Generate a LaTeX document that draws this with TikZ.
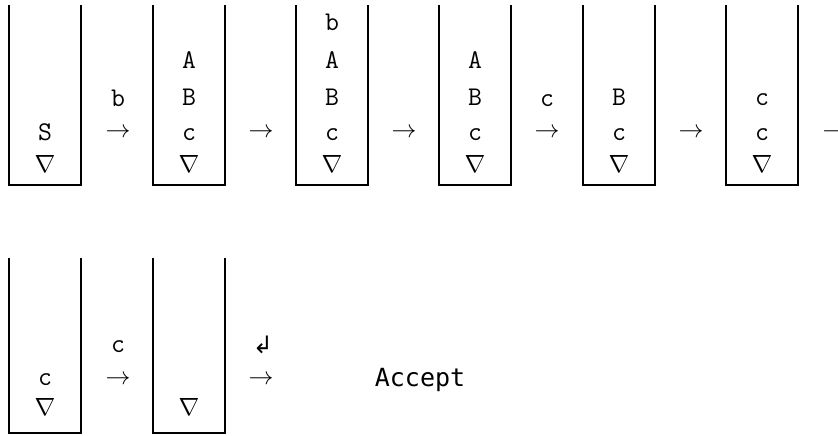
\documentclass[tikz,border=0pt]{standalone}
\usepackage{amsmath}
\usepackage{fontspec}
\newfontfamily\accfont{DejaVu Sans Mono}
\newfontfamily\symfont{DejaVu Sans}
\tikzset{
  stackline/.style={line width=2pt, line cap=butt, line join=miter},
  sym/.style={inner sep=0pt, anchor=base, font=\ttfamily\fontsize{27}{27}\selectfont},
  nab/.style={inner sep=0pt, anchor=base, font=\fontsize{23}{23}\selectfont},
  arr/.style={inner sep=0pt, anchor=center, font=\fontsize{24}{24}\selectfont},
}
\newcommand{\nb}{$\nabla$}
\begin{document}
\begin{tikzpicture}[x=1pt,y=1pt]
\useasboundingbox (0,0) rectangle (838,436);
% row 1 stacks
\foreach \xl [count=\i] in {9,153,296,439,583,726}{
  \draw[stackline] (\xl,431) |- (\xl+72,251) -- (\xl+72,431);
}
% row 2 stacks
\foreach \xl [count=\i] in {9,153}{
  \draw[stackline] (\xl,178) |- (\xl+72,3) -- (\xl+72,178);
}
% stack 1
\node[sym] (s1d) at (45,295) {S};
\node[nab] (s1n) at (45,263) {\nb};
% stack 2
\node[sym] (s2b) at (189,367) {A};
\node[sym] (s2c) at (189,330) {B};
\node[sym] (s2d) at (189,295) {c};
\node[nab] (s2n) at (189,263) {\nb};
% stack 3
\node[sym] (s3a) at (332,405) {b};
\node[sym] (s3b) at (332,367) {A};
\node[sym] (s3c) at (332,330) {B};
\node[sym] (s3d) at (332,295) {c};
\node[nab] (s3n) at (332,263) {\nb};
% stack 4
\node[sym] (s4b) at (475,367) {A};
\node[sym] (s4c) at (475,330) {B};
\node[sym] (s4d) at (475,295) {c};
\node[nab] (s4n) at (475,263) {\nb};
% stack 5
\node[sym] (s5c) at (619,330) {B};
\node[sym] (s5d) at (619,295) {c};
\node[nab] (s5n) at (619,263) {\nb};
% stack 6
\node[sym] (s6c) at (762,330) {c};
\node[sym] (s6d) at (762,295) {c};
\node[nab] (s6n) at (762,263) {\nb};
% arrows row 1
\node[arr] (a1) at (118,303) {$\rightarrow$};
\node[arr] (a2) at (261,303) {$\rightarrow$};
\node[arr] (a3) at (404,303) {$\rightarrow$};
\node[arr] (a4) at (547,303) {$\rightarrow$};
\node[arr] (a5) at (691,303) {$\rightarrow$};
\node[arr] (a6) at (835,303) {$\rightarrow$};
\node[sym] (l1) at (118,329) {b};
\node[sym] (l4) at (547,329) {c};
% row 2
\node[sym] (s7d) at (45,50) {c};
\node[nab] (s7n) at (45,20) {\nb};
\node[nab] (s8n) at (189,20) {\nb};
\node[arr] (a7) at (118,56) {$\rightarrow$};
\node[sym] (l7) at (118,83) {c};
\node[arr] (a8) at (261,56) {$\rightarrow$};
\node[inner sep=0pt, font=\symfont\fontsize{24}{24}\selectfont] (ret) at (263,91) {↲};
\node[inner sep=0pt, anchor=base, font=\accfont\fontsize{25}{25}\selectfont] (acc) at (420,49) {Accept};
\end{tikzpicture}
\end{document}
